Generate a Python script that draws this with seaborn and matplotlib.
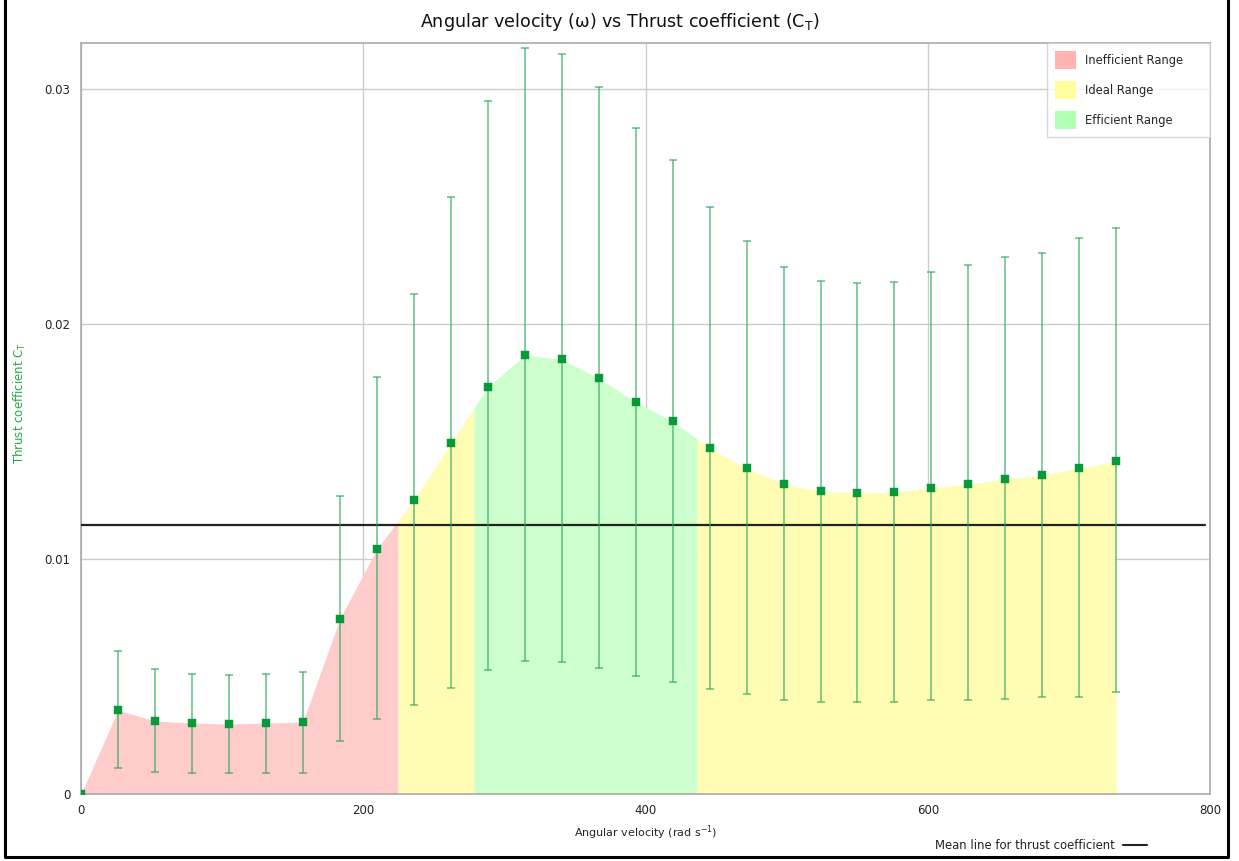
import numpy as np
import pandas as pd
import matplotlib
matplotlib.use("Agg")
import matplotlib.pyplot as plt
import seaborn as sns
from matplotlib.patches import Patch
from matplotlib.lines import Line2D
from matplotlib.ticker import MultipleLocator, FuncFormatter

# data
omega = np.arange(29) * 26.2  # rad/s (250 rpm steps)
ct = [0.0, 0.00357, 0.00311, 0.00302, 0.00298, 0.00302, 0.00306, 0.00745, 0.01043,
      0.01251, 0.01494, 0.01732, 0.01868, 0.01851, 0.01770, 0.01668, 0.01587, 0.01472,
      0.01387, 0.01319, 0.01289, 0.01281, 0.01285, 0.01302, 0.01319, 0.01340, 0.01357,
      0.01387, 0.01417]
ct_hi = [0.0, 0.00609, 0.00532, 0.00511, 0.00506, 0.00511, 0.00519, 0.01268, 0.01774,
         0.02128, 0.02540, 0.02949, 0.03174, 0.03149, 0.03009, 0.02834, 0.02698, 0.02498,
         0.02353, 0.02243, 0.02183, 0.02174, 0.02179, 0.02221, 0.02251, 0.02285, 0.02302,
         0.02366, 0.02409]
ct_lo = [0.0, 0.00111, 0.00094, 0.00089, 0.00089, 0.00089, 0.00089, 0.00226, 0.00319,
         0.00379, 0.00451, 0.00528, 0.00566, 0.00562, 0.00536, 0.00502, 0.00477, 0.00447,
         0.00426, 0.00400, 0.00391, 0.00391, 0.00391, 0.00400, 0.00400, 0.00404, 0.00413,
         0.00413, 0.00434]
ct_mean = 0.01145

range_names = ["Inefficient Range", "Ideal Range", "Efficient Range", "Ideal Range"]
range_edges = [0.0, 224.6, 278.5, 436.6, omega[-1]]
range_colors = {"Inefficient Range": "#ffcccc", "Ideal Range": "#fffdb3", "Efficient Range": "#ccffcc"}
legend_colors = {"Inefficient Range": "#ffb3b3", "Ideal Range": "#ffff9e", "Efficient Range": "#b3ffb3"}

df = pd.DataFrame({"omega": omega, "ct": ct, "hi": ct_hi, "lo": ct_lo})

sns.set_style("white")
plt.rcParams["font.family"] = ["DejaVu Sans"]

fig = plt.figure(figsize=(12.39, 8.61), dpi=100)
ax = fig.add_axes([0.0654, 0.0778, 0.9112, 0.8722])

# coloured areas under the curve
for name, x0, x1 in zip(range_names, range_edges[:-1], range_edges[1:]):
    inside = df["omega"][(df["omega"] > x0) & (df["omega"] < x1)].tolist()
    xs = np.array([x0] + inside + [x1])
    ys = np.interp(xs, df["omega"], df["ct"])
    ax.fill_between(xs, 0, ys, color=range_colors[name], lw=0, zorder=1)

ax.axhline(ct_mean, xmin=0, xmax=0.996, color="#222222", lw=1.6, zorder=3)

err = np.vstack([df["ct"] - df["lo"], df["hi"] - df["ct"]])
ax.errorbar(df["omega"][1:], df["ct"][1:], yerr=err[:, 1:], fmt="none",
            ecolor="#24a458", alpha=0.65, elinewidth=1.2, capsize=3.2, capthick=1.2, zorder=4)
sns.scatterplot(data=df, x="omega", y="ct", marker="s", s=32, color="#08993a",
                edgecolor="#08993a", linewidth=0.3, ax=ax, zorder=5, legend=False)

ax.set_xlim(0, 800)
ax.set_ylim(0, 0.03197)
ax.xaxis.set_major_locator(MultipleLocator(200))
ax.xaxis.set_minor_locator(MultipleLocator(100))
ax.yaxis.set_major_locator(MultipleLocator(0.01))
ax.yaxis.set_minor_locator(MultipleLocator(0.002))
ax.yaxis.set_major_formatter(FuncFormatter(lambda v, p: "%g" % round(v, 4)))
ax.tick_params(which="both", direction="out", color="#999999", labelsize=8.5,
               labelcolor="#222222", pad=2.5)
ax.tick_params(which="major", length=5)
ax.tick_params(which="minor", length=4)
ax.grid(True, which="major", color="#cccccc", lw=1, zorder=0)
ax.set_axisbelow(True)
for s in ax.spines.values():
    s.set_color("#aaaaaa")
    s.set_linewidth(1.2)

fig.text(0.5, 0.975, r"Angular velocity (ω) vs Thrust coefficient ($\mathregular{C_T}$)",
         fontsize=12.6, ha="center", va="center", color="#111111")
ax.set_xlabel(r"Angular velocity (rad s$^{-1}$)", fontsize=8, labelpad=4)
ax.set_ylabel(r"Thrust coefficient $\mathregular{C_T}$", fontsize=8.5, color="#22aa44")
ax.yaxis.set_label_coords(-0.047, 0.52)

handles = [Patch(facecolor=legend_colors[n], edgecolor="none") for n in range_names[:3]]
leg_w = 163 / 1129
leg = ax.legend(handles, range_names[:3], loc="upper left", mode="expand",
                bbox_to_anchor=(1 - leg_w, 0, leg_w, 1), fontsize=8.3, frameon=True,
                fancybox=False, borderaxespad=0, handlelength=1.8, handleheight=2.0,
                labelspacing=1.05, borderpad=0.7, handletextpad=0.8)
leg.get_frame().set_edgecolor("#cccccc")
leg.get_frame().set_linewidth(1)

fig.text(0.755, 0.018, "Mean line for thrust coefficient", fontsize=8.4, color="#222222", va="center")
fig.add_artist(Line2D([0.906, 0.926], [0.019, 0.019], color="#222222", lw=1.5))

# outer frame
fig.add_artist(Line2D([0.004, 0.004, 0.991, 0.991], [1.0, 0.005, 0.005, 1.0],
                      color="black", lw=2.2, transform=fig.transFigure))

fig.savefig("out.png", dpi=100)
